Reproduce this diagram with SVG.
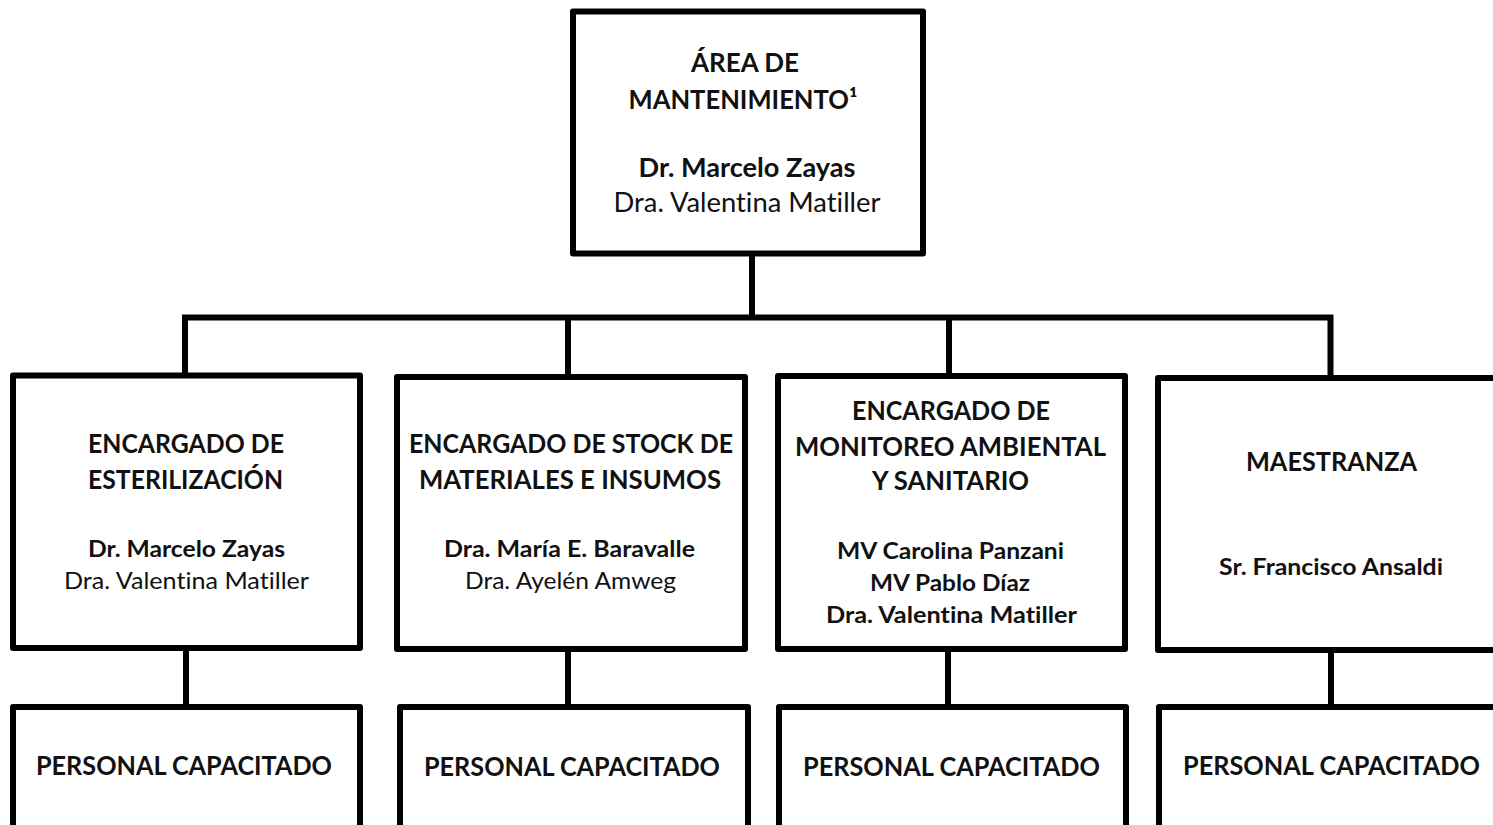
<svg xmlns="http://www.w3.org/2000/svg" width="1493" height="825" viewBox="0 0 1493 825">
<style>
.box{fill:#fff;stroke:#000;stroke-width:6;stroke-linejoin:round}
.con{fill:none;stroke:#000;stroke-width:6;stroke-linejoin:miter}
text{font-family:Lato,"Open Sans","Liberation Sans",sans-serif;fill:#111;text-anchor:middle;font-variant-ligatures:none;font-feature-settings:"liga" 0,"clig" 0}
.t{font-size:26px;font-weight:bold}
.nb{font-size:23.5px;font-weight:bold}
.nr{font-size:23.5px;font-weight:normal}
.tb{font-size:26px;font-weight:bold}
.tr{font-size:26px;font-weight:normal}
</style>
<rect width="1493" height="825" fill="#fff"/>
<g id="connectors">
<path class="con" d="M752,256 V317.5"/>
<path class="con" d="M185,378 V317.5 H1330.5 V378"/>
<path class="con" d="M568,317.5 V378"/>
<path class="con" d="M949,317.5 V378"/>
<path class="con" d="M186,648 V708"/>
<path class="con" d="M568,648 V708"/>
<path class="con" d="M948,648 V708"/>
<path class="con" d="M1331,650 V708"/>
</g>
<g id="area-mantenimiento">
<rect class="box" x="573" y="11.5" width="350" height="242"/>
<text class="t" x="745" y="72" textLength="108" lengthAdjust="spacingAndGlyphs">ÁREA DE</text>
<text class="t" x="743" y="109" textLength="229" lengthAdjust="spacingAndGlyphs">MANTENIMIENTO¹</text>
<text class="tb" x="747" y="177" textLength="217" lengthAdjust="spacingAndGlyphs">Dr. Marcelo Zayas</text>
<text class="tr" x="747" y="212" textLength="267" lengthAdjust="spacingAndGlyphs">Dra. Valentina Matiller</text>
</g>
<g id="esterilizacion">
<rect class="box" x="13" y="375.5" width="347" height="272.5"/>
<text class="t" x="186" y="453" textLength="196" lengthAdjust="spacingAndGlyphs">ENCARGADO DE</text>
<text class="t" x="185.5" y="489" textLength="195" lengthAdjust="spacingAndGlyphs">ESTERILIZACIÓN</text>
<text class="nb" x="186.5" y="557" textLength="197" lengthAdjust="spacingAndGlyphs">Dr. Marcelo Zayas</text>
<text class="nr" x="186.5" y="589" textLength="245" lengthAdjust="spacingAndGlyphs">Dra. Valentina Matiller</text>
</g>
<g id="stock">
<rect class="box" x="397" y="377" width="348" height="272"/>
<text class="t" x="571" y="453" textLength="324" lengthAdjust="spacingAndGlyphs">ENCARGADO DE STOCK DE</text>
<text class="t" x="570" y="489" textLength="302" lengthAdjust="spacingAndGlyphs">MATERIALES E INSUMOS</text>
<text class="nb" x="569.5" y="557" textLength="251" lengthAdjust="spacingAndGlyphs">Dra. María E. Baravalle</text>
<text class="nr" x="570.5" y="589" textLength="211" lengthAdjust="spacingAndGlyphs">Dra. Ayelén Amweg</text>
</g>
<g id="monitoreo">
<rect class="box" x="778" y="376" width="347" height="273"/>
<text class="t" x="951" y="420" textLength="198" lengthAdjust="spacingAndGlyphs">ENCARGADO DE</text>
<text class="t" x="950.5" y="456" textLength="311" lengthAdjust="spacingAndGlyphs">MONITOREO AMBIENTAL</text>
<text class="t" x="950.5" y="490" textLength="157" lengthAdjust="spacingAndGlyphs">Y SANITARIO</text>
<text class="nb" x="950.5" y="559" textLength="227" lengthAdjust="spacingAndGlyphs">MV Carolina Panzani</text>
<text class="nb" x="950" y="591" textLength="160" lengthAdjust="spacingAndGlyphs">MV Pablo Díaz</text>
<text class="nb" x="951.5" y="623" textLength="251" lengthAdjust="spacingAndGlyphs">Dra. Valentina Matiller</text>
</g>
<g id="maestranza">
<rect class="box" x="1158" y="378" width="400" height="272"/>
<text class="t" x="1331.5" y="471" textLength="171" lengthAdjust="spacingAndGlyphs">MAESTRANZA</text>
<text class="nb" x="1331" y="575" textLength="224" lengthAdjust="spacingAndGlyphs">Sr. Francisco Ansaldi</text>
</g>
<g id="personal-1">
<rect class="box" x="13" y="707" width="347" height="140"/>
<text class="t" x="184" y="775" textLength="296" lengthAdjust="spacingAndGlyphs">PERSONAL CAPACITADO</text>
</g>
<g id="personal-2">
<rect class="box" x="400" y="707" width="348" height="140"/>
<text class="t" x="572" y="776" textLength="296" lengthAdjust="spacingAndGlyphs">PERSONAL CAPACITADO</text>
</g>
<g id="personal-3">
<rect class="box" x="779" y="707" width="347" height="140"/>
<text class="t" x="951.5" y="776" textLength="297" lengthAdjust="spacingAndGlyphs">PERSONAL CAPACITADO</text>
</g>
<g id="personal-4">
<rect class="box" x="1159" y="707" width="400" height="140"/>
<text class="t" x="1331.5" y="775" textLength="297" lengthAdjust="spacingAndGlyphs">PERSONAL CAPACITADO</text>
</g>
</svg>
